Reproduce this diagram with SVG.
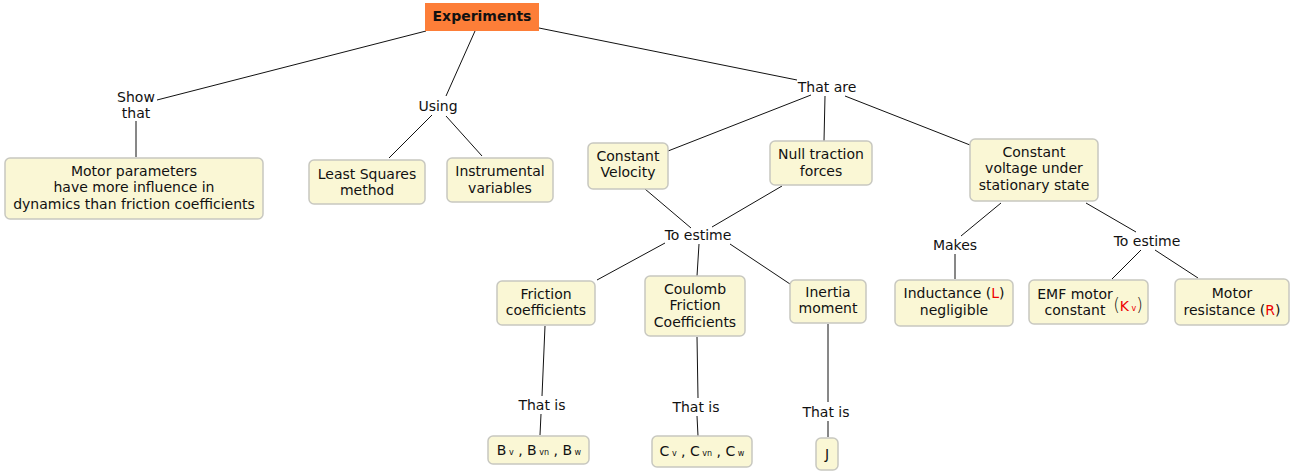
<svg xmlns="http://www.w3.org/2000/svg" width="1293" height="473" viewBox="0 0 1293 473">
<style>
text{font-family:"DejaVu Sans",sans-serif;font-size:14px;fill:#111;text-anchor:middle}
.n{fill:#FAF7D5;stroke:#C8C8C0;stroke-width:1.5}
.c line{stroke:#111;stroke-width:1}
.r{fill:#E00}
.s{font-size:8px}
</style>
<rect width="1293" height="473" fill="#fff"/>
<g class="c" id="connectors">
<line x1="426" y1="31" x2="157" y2="100"/>
<line x1="136" y1="121" x2="136" y2="157"/>
<line x1="475" y1="31" x2="446" y2="96"/>
<line x1="432" y1="115" x2="389" y2="158"/>
<line x1="446" y1="116" x2="482" y2="156"/>
<line x1="539" y1="28" x2="797" y2="80"/>
<line x1="811" y1="95" x2="668" y2="151"/>
<line x1="825" y1="96" x2="824" y2="141"/>
<line x1="845" y1="96" x2="970" y2="145"/>
<line x1="645" y1="189" x2="691" y2="228"/>
<line x1="782" y1="186" x2="712" y2="227"/>
<line x1="665" y1="243" x2="597" y2="280"/>
<line x1="699" y1="244" x2="697" y2="276"/>
<line x1="730" y1="244" x2="790" y2="284"/>
<line x1="545" y1="326" x2="542" y2="396"/>
<line x1="541" y1="414" x2="540" y2="435"/>
<line x1="697" y1="337" x2="698" y2="398"/>
<line x1="697" y1="416" x2="698" y2="436"/>
<line x1="828" y1="324" x2="828" y2="402"/>
<line x1="828" y1="421" x2="828" y2="437"/>
<line x1="1001" y1="203" x2="961" y2="236"/>
<line x1="955" y1="254" x2="955" y2="279"/>
<line x1="1086" y1="203" x2="1136" y2="232"/>
<line x1="1141" y1="250" x2="1112" y2="279"/>
<line x1="1155" y1="250" x2="1198" y2="278"/>
</g>
<g id="labels">
<text x="136" y="102">Show</text><text x="136" y="118">that</text>
<text x="438" y="111">Using</text>
<text x="827" y="92">That are</text>
<text x="698" y="240">To estime</text>
<text x="955" y="250">Makes</text>
<text x="1147" y="246">To estime</text>
<text x="542" y="410">That is</text>
<text x="696" y="412">That is</text>
<text x="826" y="417">That is</text>
</g>
<g id="experiments">
<rect x="425" y="3" width="114" height="28" fill="#FD7E38"/>
<text x="482" y="21" style="font-weight:bold">Experiments</text>
</g>
<g id="motor-params">
<rect class="n" x="5" y="158" width="258" height="61" rx="5"/>
<text x="134" y="176">Motor parameters</text>
<text x="134" y="192">have more influence in</text>
<text x="134" y="209">dynamics than friction coefficients</text>
</g>
<g id="least-squares">
<rect class="n" x="309" y="160" width="116" height="44" rx="5"/>
<text x="367" y="179">Least Squares</text>
<text x="367" y="195">method</text>
</g>
<g id="instrumental">
<rect class="n" x="447" y="158" width="106" height="44" rx="5"/>
<text x="500" y="176">Instrumental</text>
<text x="500" y="193">variables</text>
</g>
<g id="const-velocity">
<rect class="n" x="588" y="143" width="80" height="46" rx="5"/>
<text x="628" y="161">Constant</text>
<text x="628" y="177">Velocity</text>
</g>
<g id="null-traction">
<rect class="n" x="770" y="141" width="102" height="44" rx="5"/>
<text x="821" y="159">Null traction</text>
<text x="821" y="176">forces</text>
</g>
<g id="const-voltage">
<rect class="n" x="970" y="139" width="128" height="62" rx="5"/>
<text x="1034" y="157">Constant</text>
<text x="1034" y="173">voltage under</text>
<text x="1034" y="190">stationary state</text>
</g>
<g id="friction">
<rect class="n" x="497" y="281" width="98" height="44" rx="5"/>
<text x="546" y="299">Friction</text>
<text x="546" y="315">coefficients</text>
</g>
<g id="coulomb">
<rect class="n" x="645" y="276" width="100" height="60" rx="5"/>
<text x="695" y="294">Coulomb</text>
<text x="695" y="310">Friction</text>
<text x="695" y="327">Coefficients</text>
</g>
<g id="inertia">
<rect class="n" x="790" y="280" width="76" height="43" rx="5"/>
<text x="828" y="297">Inertia</text>
<text x="828" y="313">moment</text>
</g>
<g id="inductance">
<rect class="n" x="895" y="280" width="118" height="46" rx="5"/>
<text x="954" y="298">Inductance (<tspan class="r">L</tspan>)</text>
<text x="954" y="315">negligible</text>
</g>
<g id="emf">
<rect class="n" x="1029" y="280" width="119" height="44" rx="5"/>
<text x="1075" y="299">EMF motor</text>
<text x="1075" y="315">constant</text>
<text x="1128" y="311" style="font-size:17px;font-weight:lighter">(<tspan class="r" style="font-size:14px;font-weight:normal">K</tspan><tspan class="r s" style="font-weight:normal"> v</tspan>)</text>
</g>
<g id="resistance">
<rect class="n" x="1175" y="279" width="114" height="46" rx="5"/>
<text x="1232" y="298">Motor</text>
<text x="1232" y="315">resistance (<tspan class="r">R</tspan>)</text>
</g>
<g id="b-values">
<rect class="n" x="488" y="436" width="101" height="28" rx="5"/>
<text x="539" y="455">B<tspan class="s"> v</tspan> , B<tspan class="s"> vn</tspan> , B<tspan class="s"> w</tspan></text>
</g>
<g id="c-values">
<rect class="n" x="652" y="436" width="100" height="31" rx="5"/>
<text x="702" y="456">C<tspan class="s"> v</tspan> , C<tspan class="s"> vn</tspan> , C<tspan class="s"> w</tspan></text>
</g>
<g id="j-value">
<rect class="n" x="816" y="438" width="22" height="32" rx="5"/>
<text x="827" y="459">J</text>
</g>
</svg>
